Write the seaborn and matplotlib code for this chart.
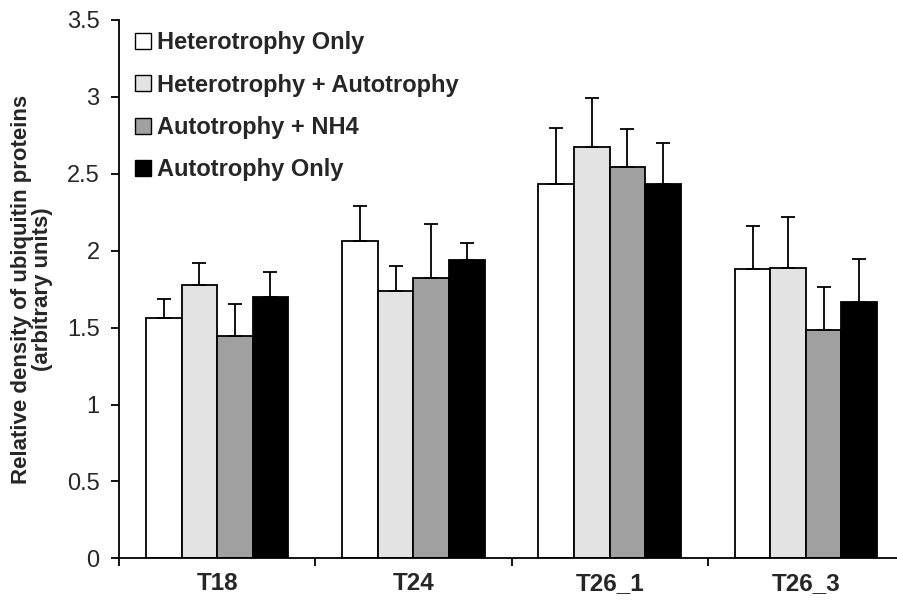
import matplotlib
matplotlib.use("Agg")
import matplotlib.pyplot as plt
import seaborn as sns
import pandas as pd
import numpy as np
from matplotlib.lines import Line2D

categories = ["T18", "T24", "T26_1", "T26_3"]
series = ["Heterotrophy Only", "Heterotrophy + Autotrophy", "Autotrophy + NH4", "Autotrophy Only"]
colors = ["#FFFFFF", "#E3E3E3", "#A0A0A0", "#000000"]

het_only = [1.56, 2.065, 2.435, 1.883]
het_auto = [1.779, 1.74, 2.673, 1.89]
auto_nh4 = [1.448, 1.82, 2.547, 1.487]
auto_only = [1.697, 1.942, 2.432, 1.666]

err_het_only = [0.126, 0.223, 0.361, 0.277]
err_het_auto = [0.143, 0.158, 0.318, 0.326]
err_auto_nh4 = [0.205, 0.351, 0.243, 0.277]
err_auto_only = [0.167, 0.106, 0.271, 0.279]

means = [het_only, het_auto, auto_nh4, auto_only]
errs = [err_het_only, err_het_auto, err_auto_nh4, err_auto_only]

rows = []
for s, vals in zip(series, means):
    for c, v in zip(categories, vals):
        rows.append({"cat": c, "series": s, "value": v})
df = pd.DataFrame(rows)

sns.set_theme(style="white")
plt.rcParams["font.family"] = ["Liberation Sans", "DejaVu Sans"]

fig = plt.figure(figsize=(8.97, 6.0), dpi=100)
ax = fig.add_axes([119 / 897, (600 - 558.3) / 600, 785 / 897, 538.3 / 600])

sns.barplot(data=df, x="cat", y="value", hue="series", order=categories,
            hue_order=series, palette=colors, width=0.725, ax=ax,
            edgecolor="black", linewidth=1.3, errorbar=None, legend=False,
            saturation=1)

for cont, e in zip(ax.containers, errs):
    xs = [b.get_x() + b.get_width() / 2 for b in cont]
    ys = [b.get_height() for b in cont]
    ax.errorbar(xs, ys, yerr=[np.zeros(len(e)), e], fmt="none",
                ecolor="black", elinewidth=1.3, capsize=5, capthick=1.3, zorder=1)

ax.set_ylim(0, 3.5)
ax.set_yticks(np.arange(0, 3.51, 0.5))
ax.set_yticklabels(["0", "0.5", "1", "1.5", "2", "2.5", "3", "3.5"], fontsize=17)
ax.set_xlim(-0.5, 3.5)
ax.set_xticks([-0.5, 0.5, 1.5, 2.5, 3.5])
ax.set_xticklabels([])
ax.set_xticks(range(4), minor=True)
ax.set_xticklabels(categories, minor=True, fontsize=17.5, fontweight="bold")
ax.tick_params(axis="x", which="minor", length=0, pad=10)
ax.tick_params(axis="x", which="major", direction="out", length=6, width=1.3, color="black", bottom=True)
ax.tick_params(axis="y", direction="out", length=6, width=1.3, color="black", left=True, pad=8)
ax.set_xlabel("")
ax.set_ylabel("Relative density of ubiquitin proteins\n(arbitrary units)",
              fontsize=16, fontweight="bold", labelpad=10, linespacing=1.0)
for sp in ["top", "right"]:
    ax.spines[sp].set_visible(False)
for sp in ["left", "bottom"]:
    ax.spines[sp].set_color("black")
    ax.spines[sp].set_linewidth(1.3)

handles = [Line2D([0], [0], marker="s", linestyle="none", markersize=11,
                  markerfacecolor=c, markeredgecolor="black", markeredgewidth=1.0)
           for c in colors]
leg = ax.legend(handles, series, loc="upper left", bbox_to_anchor=(0.0, 1.01),
                frameon=False, prop={"weight": "bold", "size": 17},
                labelspacing=0.82, handlelength=0.6, handletextpad=0.3,
                borderaxespad=0.3)

fig.savefig("out.png", dpi=100)
